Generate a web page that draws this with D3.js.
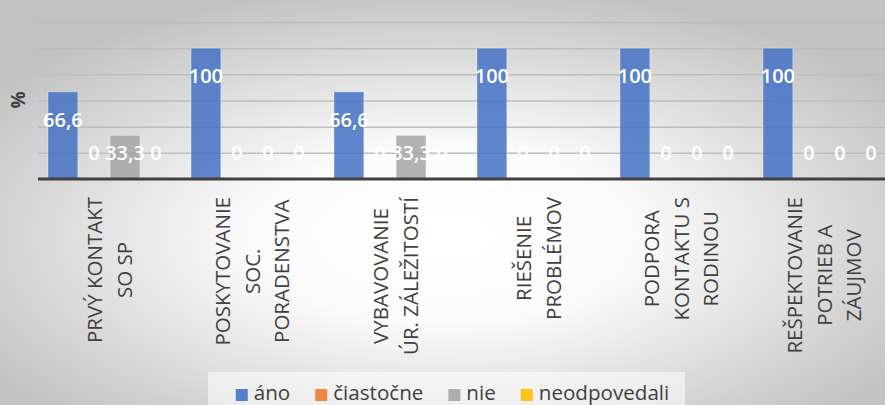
<!DOCTYPE html>
<html>
<head>
<meta charset="utf-8">
<script src="https://cdn.jsdelivr.net/npm/d3@7"></script>
<style>
  html, body { margin: 0; padding: 0; }
  svg { display: block; font-family: "Open Sans", sans-serif; }
</style>
</head>
<body>
<div id="chart"></div>
<script>
// data
var categories = [
  ['PRVÝ KONTAKT', 'SO SP'],
  ['POSKYTOVANIE', 'SOC.', 'PORADENSTVA'],
  ['VYBAVOVANIE', 'ÚR. ZÁLEŽITOSTÍ'],
  ['RIEŠENIE', 'PROBLÉMOV'],
  ['PODPORA', 'KONTAKTU S', 'RODINOU'],
  ['REŠPEKTOVANIE', 'POTRIEB A', 'ZÁUJMOV']
];
var seriesNames = ['áno', 'čiastočne', 'nie', 'neodpovedali'];
var ano = [66.6, 100, 66.6, 100, 100, 100];
var ciastocne = [0, 0, 0, 0, 0, 0];
var nie = [33.3, 0, 33.3, 0, 0, 0];
var neodpovedali = [0, 0, 0, 0, 0, 0];
var yTicks = [0, 20, 40, 60, 80, 100, 120];
var colors = ['#4472C4', '#ED7D31', '#A5A5A5', '#FFC000'];

var seriesValues = [ano, ciastocne, nie, neodpovedali];
var labelText = function (v) { return String(v).replace('.', ','); };

var W = 885, H = 405;
var margin = { left: 38, top: 22, bottom: 179 };
var step = 143;

var svg = d3.select('#chart').append('svg')
  .attr('width', W).attr('height', H);

var defs = svg.append('defs');
var grad = defs.append('radialGradient').attr('id', 'bg')
  .attr('cx', '0.5').attr('cy', '0.58').attr('r', '0.62');
grad.append('stop').attr('offset', '0').attr('stop-color', '#ffffff');
grad.append('stop').attr('offset', '0.35').attr('stop-color', '#fbfbfb');
grad.append('stop').attr('offset', '1').attr('stop-color', '#c2c2c2');
svg.append('rect').attr('width', W).attr('height', H).attr('fill', 'url(#bg)');

var x = d3.scaleBand()
  .domain(d3.range(categories.length))
  .range([margin.left, margin.left + step * categories.length]);
var xInner = d3.scaleBand()
  .domain(seriesNames)
  .range([10, 133])
  .paddingInner(0.04);
var y = d3.scaleLinear().domain([0, 120]).range([margin.bottom, margin.top]);

// gridlines
svg.append('g')
  .attr('transform', 'translate(' + margin.left + ',0)')
  .call(d3.axisLeft(y).tickValues(yTicks.slice(1)).tickSize(-(W - margin.left)).tickFormat(''))
  .call(function (g) {
    g.select('.domain').remove();
    g.selectAll('.tick line').attr('stroke', '#bdbdbd').attr('stroke-width', 1.5);
  });

// bars
var groups = svg.append('g').selectAll('g')
  .data(seriesNames)
  .enter().append('g');

groups.selectAll('rect')
  .data(function (s, si) { return seriesValues[si].map(function (v, ci) { return { s: s, si: si, ci: ci, v: v }; }); })
  .enter().append('rect')
  .attr('x', function (d) { return x(d.ci) + xInner(d.s); })
  .attr('width', xInner.bandwidth())
  .attr('y', function (d) { return y(d.v); })
  .attr('height', function (d) { return y(0) - y(d.v); })
  .attr('fill', function (d) { return colors[d.si]; })
  .attr('fill-opacity', 0.85)
  .attr('stroke', '#ffffff')
  .attr('stroke-opacity', 0.35)
  .attr('stroke-width', function (d) { return d.v > 0 ? 1 : 0; });

// baseline
svg.append('line')
  .attr('x1', margin.left).attr('x2', W)
  .attr('y1', y(0)).attr('y2', y(0))
  .attr('stroke', '#404040').attr('stroke-width', 3);

// data labels
groups.selectAll('text')
  .data(function (s, si) { return seriesValues[si].map(function (v, ci) { return { s: s, si: si, ci: ci, v: v }; }); })
  .enter().append('text')
  .attr('x', function (d) { return x(d.ci) + xInner(d.s) + xInner.bandwidth() / 2; })
  .attr('y', function (d) { return Math.min(y(d.v) + 35, y(0) - 19); })
  .attr('text-anchor', 'middle')
  .attr('fill', '#ffffff')
  .attr('font-size', 20)
  .attr('font-weight', 600)
  .text(function (d) { return labelText(d.v); });

// y-axis title
svg.append('text')
  .attr('transform', 'translate(25,100) rotate(-90)')
  .attr('text-anchor', 'middle')
  .attr('fill', '#404040')
  .attr('font-size', 19)
  .attr('font-weight', 700)
  .text('%');

// category labels (rotated, lines centered, block top-aligned under the axis)
var lineGap = 29.5, fs = 20.5, labelTop = 197;
categories.forEach(function (lines, ci) {
  var cx = x(ci) + step / 2;
  var g = svg.append('g');
  var texts = lines.map(function (t, i) {
    return g.append('text')
      .attr('text-anchor', 'middle')
      .attr('fill', '#404040')
      .attr('font-size', fs)
      .text(t);
  });
  var L = d3.max(texts, function (t) { return t.node().getComputedTextLength(); });
  texts.forEach(function (t, i) {
    var lx = cx + (i - (lines.length - 1) / 2) * lineGap + 0.36 * fs;
    t.attr('transform', 'translate(' + lx + ',' + (labelTop + L / 2) + ') rotate(-90)');
  });
});

// legend
svg.append('rect')
  .attr('x', 208).attr('y', 372).attr('width', 477).attr('height', 40)
  .attr('fill', '#ffffff').attr('fill-opacity', 0.55);

var legend = svg.append('g');
var lx = 0;
seriesNames.forEach(function (name, i) {
  var item = legend.append('g').attr('transform', 'translate(' + lx + ',0)');
  item.append('rect')
    .attr('x', 0).attr('y', 389).attr('width', 12).attr('height', 12)
    .attr('fill', colors[i]).attr('fill-opacity', 0.9);
  var t = item.append('text')
    .attr('x', 18).attr('y', 400)
    .attr('fill', '#404040')
    .attr('font-size', 20.6)
    .text(name);
  lx += 18 + t.node().getComputedTextLength() + 25;
});
var legendW = lx - 25;
legend.attr('transform', 'translate(' + (452.5 - legendW / 2) + ',0)');
</script>
</body>
</html>
